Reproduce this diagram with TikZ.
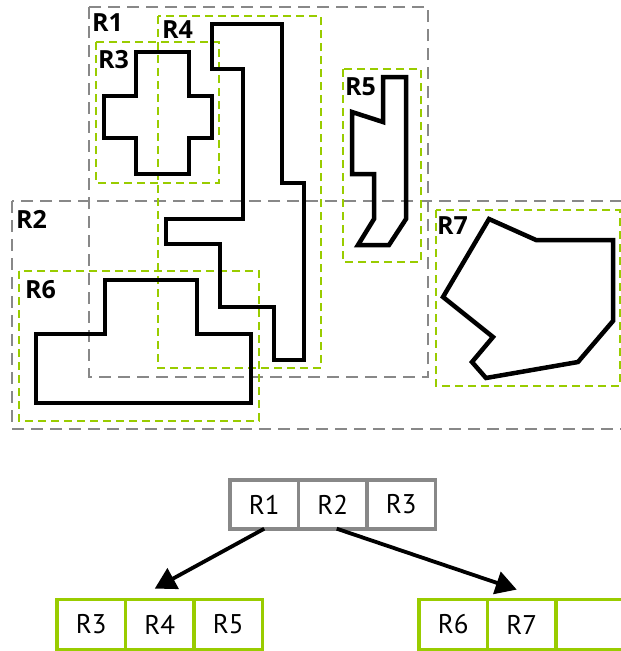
\documentclass[tikz,border=0pt]{standalone}
\usepackage{fontspec}
\setmainfont{Open Sans}
\newfontfamily\treefont{PT Sans}
\usetikzlibrary{arrows.meta}
\definecolor{mbrgray}{HTML}{888888}
\definecolor{mbrgreen}{HTML}{99CC00}
\tikzset{
  outerbox/.style={draw=mbrgray, line width=2.6pt, dash pattern=on 12pt off 7pt},
  innerbox/.style={draw=mbrgreen, line width=2.6pt, dash pattern=on 8pt off 5pt},
  shapeline/.style={draw=black, line width=4.5pt},
  regionlabel/.style={anchor=base west, inner sep=0pt, font=\fontsize{25}{28}\selectfont\bfseries},
  entrybox/.style={draw, minimum width=68.5pt, minimum height=49pt, inner sep=0pt, font=\treefont\fontsize{27}{30}\selectfont},
  graynode/.style={entrybox, draw=mbrgray, line width=3.4pt},
  greennode/.style={entrybox, draw=mbrgreen, line width=3.8pt, minimum height=50pt},
  treearrow/.style={draw=black, line width=3.8pt, -{Triangle[length=21pt,width=23pt]}}
}
\begin{document}
\begin{tikzpicture}[x=1pt,y=-1pt]
\useasboundingbox (0,0) rectangle (621,651);
\clip (0,0) rectangle (621,651);

% bounding rectangles
\draw[outerbox] (89,7) rectangle (428,377);
\draw[outerbox] (12,201) rectangle (640,429);
\draw[innerbox] (96,42) rectangle (219,183);
\draw[innerbox] (158,16) rectangle (321,368);
\draw[innerbox] (343,69) rectangle (421,262);
\draw[innerbox] (19,271) rectangle (259,421);
\draw[innerbox] (436,210) rectangle (620,386);

% shapes
\draw[shapeline] (136,52) -- (189,52) -- (189,96) -- (212,96) -- (212,138) -- (189,138)
  -- (189,174) -- (136,174) -- (136,138) -- (104,138) -- (104,96) -- (136,96) -- cycle;
\draw[shapeline] (212,24) -- (282,24) -- (282,183) -- (304,183) -- (304,360) -- (274,360)
  -- (274,307) -- (220,307) -- (220,244) -- (166,244) -- (166,219) -- (243,219)
  -- (243,69) -- (212,69) -- cycle;
\draw[shapeline] (383,77) -- (406,77) -- (406,219) -- (389,245) -- (358,245) -- (374,219)
  -- (374,174) -- (352,174) -- (352,112) -- (383,122) -- cycle;
\draw[shapeline] (36,403) -- (36,334) -- (105,334) -- (105,280) -- (197,280) -- (197,334)
  -- (251,334) -- (251,403) -- cycle;
\draw[shapeline] (489,219) -- (536,240) -- (613,240) -- (613,321) -- (578,362) -- (486,378)
  -- (472,362) -- (493,337) -- (443,297) -- cycle;

% region labels
\node[regionlabel] (lr1) at (92,31) {R1};
\node[regionlabel] (lr4) at (162,38) {R4};
\node[regionlabel] (lr3) at (98,68) {R3};
\node[regionlabel] (lr2) at (16,228) {R2};
\node[regionlabel] (lr6) at (25,298) {R6};
\node[regionlabel] (lr5) at (345,95) {R5};
\node[regionlabel] (lr7) at (437,234) {R7};

% tree
\node[graynode] (t1) at (264.25,504.5) {R1};
\node[graynode] (t2) at (332.75,504.5) {R2};
\node[graynode] (t3) at (401.25,504.5) {R3};

\node[greennode] (b3) at (91.25,624.5) {R3};
\node[greennode] (b4) at (159.75,624.5) {R4};
\node[greennode] (b5) at (228.25,624.5) {R5};

\node[greennode] (c6) at (453.25,624.5) {R6};
\node[greennode] (c7) at (521.75,624.5) {R7};
\node[greennode] (c8) at (590.25,624.5) {};

\draw[treearrow] ([yshift=2pt]t1.south) -- ([xshift=-5pt,yshift=9pt]b4.north);
\draw[treearrow] ([xshift=4pt,yshift=2pt]t2.south) -- ([xshift=-5pt,yshift=8pt]c7.north);
\end{tikzpicture}
\end{document}
